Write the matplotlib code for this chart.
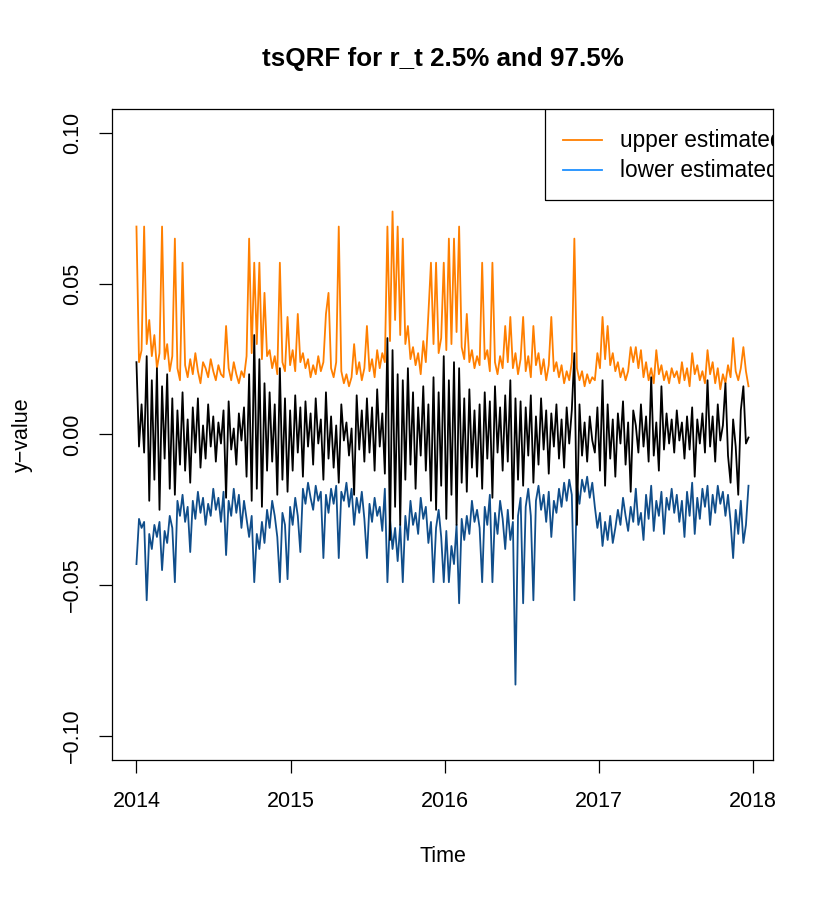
import numpy as np
import matplotlib
matplotlib.use("Agg")
import matplotlib.pyplot as plt
from matplotlib.patches import Rectangle
from matplotlib.lines import Line2D

title = "tsQRF for r_t 2.5% and 97.5%"
t_start, t_end = 2014.0, 2017.97
year_ticks = [2014, 2015, 2016, 2017, 2018]
y_ticks = [-0.10, -0.05, 0.00, 0.05, 0.10]
legend_labels = ["upper estimated", "lower estimated"]

# values in units of 0.001 (one row per quarter)
upper_q = [
    69, 24, 28, 69, 30, 38, 26, 33, 22, 27, 69, 25, 30, 21, 26,
    65, 22, 18, 57, 23, 19, 25, 20, 27, 21, 17, 24, 22, 19, 25,
    21, 18, 23, 20, 19, 36, 22, 18, 24, 20, 17, 21, 19, 26, 65,
    27, 57, 30, 57, 25, 47, 26, 28, 22, 26, 20, 57, 24, 21, 39,
    23, 28, 21, 40, 24, 27, 22, 25, 19, 23, 20, 26, 21, 24, 40,
    47, 22, 19, 24, 69, 21, 17, 20, 16, 19, 30, 20, 24, 18, 22,
    36, 21, 25, 19, 28, 22, 27, 24, 69, 31, 74, 38, 69, 33, 65,
    30, 36, 25, 29, 23, 27, 20, 31, 24, 40, 57, 30, 57, 27, 32,
    57, 28, 65, 30, 65, 34, 69, 29, 25, 40, 24, 28, 22, 26, 23,
    57, 25, 28, 21, 57, 24, 20, 26, 22, 36, 24, 39, 22, 27, 20,
    25, 39, 21, 26, 19, 36, 23, 27, 20, 25, 18, 23, 39, 21, 24,
    19, 23, 17, 21, 18, 24, 65, 22, 18, 21, 16, 20, 17, 19, 18,
    27, 22, 39, 25, 36, 23, 27, 21, 24, 19, 22, 18, 21, 29, 24,
    29, 22, 28, 19, 24, 18, 22, 17, 28, 20, 23, 18, 21, 17, 22,
    19, 21, 17, 24, 18, 22, 16, 27, 20, 23, 18, 21, 17, 28, 20,
    24, 17, 22, 15, 20, 17, 23, 19, 32, 21, 18, 22, 29, 21, 16,
]

r_t = [
    24, -4, 10, -6, 26, -22, 18, -15, 22, -25, 16, -8, 20, -18, 12,
    -20, 8, -10, 14, -12, 5, -16, 9, -6, 12, -11, 3, -8, 10, -4,
    6, -9, 4, -3, 8, -21, 11, -5, 2, -10, 7, -2, 9, -14, 20,
    -22, 33, -18, 25, -24, 17, -12, 14, -9, 10, -20, 22, -15, 12, -19,
    8, -12, 13, -6, 9, -14, 11, -4, 7, -10, 12, -3, 5, -15, 14,
    -8, 6, -11, 3, -16, 10, -2, 4, -7, 2, -20, 13, -5, 8, -9,
    12, -6, 9, -12, 15, -4, 7, -13, 32, -35, 28, -24, 20, -30, 18,
    -15, 22, -10, 14, -18, 9, -7, 16, -12, 10, -22, 19, -25, 14, -17,
    26, -28, 18, -20, 24, -30, 22, -16, 12, -19, 15, -11, 8, -14, 10,
    -18, 14, -8, 11, -21, 16, -6, 9, -12, 13, -9, 18, -28, 12, -15,
    11, -17, 9, -7, 13, -16, 6, -10, 12, -5, 8, -13, 7, -4, 10,
    -8, 5, -11, 9, -3, 8, 27, -30, 10, -7, 4, -9, 6, -2, -6,
    9, -12, 18, -17, 10, -8, 5, -14, 7, -3, 11, -10, 4, -19, 8,
    3, -6, 10, -4, 6, -9, 19, -7, 4, -12, 16, -5, 7, -3, 5,
    -6, 8, -2, 4, -8, 6, -5, 9, -14, 5, -3, 7, -6, 18, -4,
    6, -9, 10, -2, 3, 17, -7, -16, 5, -4, -20, 8, 16, -3, -1,
]

lower_q = [
    -43, -28, -31, -29, -55, -33, -38, -30, -34, -29, -45, -32, -36, -27, -31,
    -49, -22, -27, -20, -29, -24, -39, -22, -28, -19, -26, -21, -30, -23, -27,
    -18, -25, -21, -29, -19, -40, -22, -27, -18, -26, -20, -31, -22, -28, -34,
    -27, -49, -33, -38, -29, -36, -25, -31, -22, -27, -34, -49, -26, -30, -48,
    -24, -30, -21, -27, -39, -18, -23, -16, -21, -25, -17, -22, -19, -41, -20,
    -26, -18, -23, -17, -41, -19, -22, -16, -24, -18, -30, -21, -26, -19, -28,
    -41, -23, -29, -21, -27, -24, -32, -18, -49, -28, -38, -31, -42, -30, -49,
    -27, -35, -22, -30, -26, -33, -21, -28, -24, -36, -29, -49, -31, -25, -34,
    -49, -32, -49, -37, -43, -30, -56, -28, -35, -27, -33, -22, -29, -25, -31,
    -49, -24, -30, -20, -49, -26, -33, -22, -28, -38, -25, -35, -29, -83, -27,
    -21, -56, -24, -18, -27, -55, -22, -17, -25, -20, -29, -19, -34, -22, -26,
    -18, -24, -16, -22, -15, -20, -55, -17, -23, -15, -19, -14, -21, -16, -24,
    -31, -26, -37, -29, -35, -27, -36, -31, -25, -30, -21, -27, -32, -24, -29,
    -18, -30, -26, -35, -20, -28, -17, -32, -22, -27, -19, -33, -21, -25, -18,
    -26, -20, -29, -22, -34, -19, -27, -16, -33, -21, -28, -18, -24, -17, -30,
    -20, -26, -17, -23, -19, -27, -20, -29, -41, -25, -33, -22, -36, -30, -17,
]


def make_plot():
    plt.rcParams["font.family"] = ["Liberation Sans", "DejaVu Sans"]

    upper = np.array(upper_q) / 1000
    lower = np.array(lower_q) / 1000
    ret = np.array(r_t) / 1000
    t = np.linspace(t_start, t_end, len(ret))

    fig = plt.figure(figsize=(8.3, 8.98), dpi=100)
    ax = fig.add_axes([0.1349, 0.1537, 0.7964, 0.7249])

    ax.plot(t, upper, color="#FF7F00", lw=1.3)
    ax.plot(t, lower, color="#104E8B", lw=1.3)
    ax.plot(t, ret, color="black", lw=1.3)

    # R style 4% padding
    dx = 0.04 * (t_end - t_start)
    ax.set_xlim(t_start - dx, t_end + dx)
    ax.set_ylim(-0.108, 0.108)

    ax.set_xticks(year_ticks)
    ax.set_xticklabels([str(y) for y in year_ticks])
    ax.set_yticks(y_ticks)
    ax.set_yticklabels([f"{v:.2f}".replace("-", "\u2212") for v in y_ticks])
    ax.tick_params(direction="out", length=9.4, width=0.9, pad=11.5,
                   labelsize=15.5, color="black")
    ax.tick_params(axis="x", pad=13)
    for lab in ax.get_yticklabels():
        lab.set_rotation(90)
        lab.set_va("center")
    for s in ax.spines.values():
        s.set_linewidth(0.9)

    ax.set_xlabel("Time", fontsize=15.5)
    ax.xaxis.set_label_coords(0.5, -0.148)
    ax.xaxis.label.set_va("center")
    ax.set_ylabel("y\u2212value", fontsize=15.5)
    ax.yaxis.set_label_coords(-0.136, 0.5)
    ax.yaxis.label.set_va("center")

    fig.text(0.533, 0.927, title, ha="center", va="baseline",
             fontsize=18.7, fontweight="bold")

    # legend box, cut off by the plot region like the original
    ax.add_patch(Rectangle((0.655, 0.86), 0.5, 0.3, transform=ax.transAxes,
                           fill=False, lw=0.9, ec="black"))
    leg_cols = ["#FF7F00", "#1E90FF"]
    leg_y = [0.952, 0.906]
    for lab, col, yy in zip(legend_labels, leg_cols, leg_y):
        ax.add_line(Line2D([0.682, 0.741], [yy, yy], transform=ax.transAxes,
                           color=col, lw=1.3))
        ax.text(0.7685, yy, lab, transform=ax.transAxes, va="center",
                fontsize=16.3, clip_on=True)

    fig.savefig("out.png", dpi=100)


if __name__ == "__main__":
    make_plot()
